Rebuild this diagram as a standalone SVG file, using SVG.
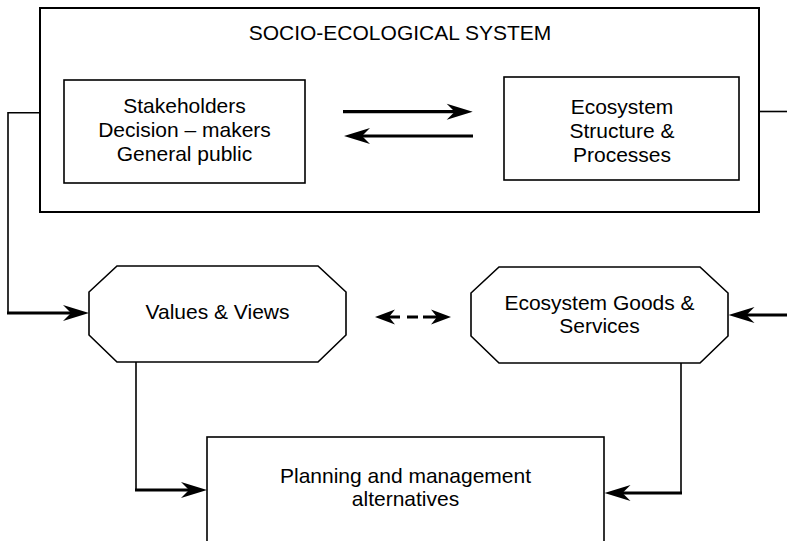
<svg xmlns="http://www.w3.org/2000/svg" width="787" height="541" viewBox="0 0 787 541">
<style>
.box{fill:#fff;stroke:#000;stroke-width:1.6}
.outer{fill:#fff;stroke:#000;stroke-width:2}
.oct{fill:#fff;stroke:#000;stroke-width:1.6;stroke-linejoin:miter}
.t{font-family:"Liberation Sans",Arial,sans-serif;font-size:21px;fill:#000;text-anchor:middle}
.thin{fill:none;stroke:#000;stroke-width:1.6}
.thick{fill:none;stroke:#000;stroke-width:3.2}
</style>
<defs>
<marker id="ah" markerUnits="userSpaceOnUse" markerWidth="26" markerHeight="16" refX="16" refY="8" orient="auto" overflow="visible">
<path d="M0,0 L26,8 L0,16 L8,8 z" fill="#000"/>
</marker>
<marker id="sh" markerUnits="userSpaceOnUse" markerWidth="20" markerHeight="15" refX="12" refY="7.5" orient="auto-start-reverse" overflow="visible">
<path d="M0,0 L20,7.5 L0,15 L6,7.5 z" fill="#000"/>
</marker>
</defs>

<g id="ses">
<rect class="outer" x="40" y="8" width="719" height="204"/>
<text class="t" x="400" y="40">SOCIO-ECOLOGICAL SYSTEM</text>
</g>

<g id="stakeholders">
<rect class="box" x="64" y="80" width="241" height="103"/>
<text class="t" x="184.5" y="113">Stakeholders</text>
<text class="t" x="184.5" y="137">Decision – makers</text>
<text class="t" x="184.5" y="161">General public</text>
</g>

<g id="ecosystem">
<rect class="box" x="504" y="77" width="235" height="103"/>
<text class="t" x="622" y="114">Ecosystem</text>
<text class="t" x="622" y="138">Structure &amp;</text>
<text class="t" x="622" y="162">Processes</text>
</g>

<g id="values">
<polygon class="oct" points="117,266 318,266 346,292 346,335 318,362 117,362 89,335 89,292"/>
<text class="t" x="217.5" y="319">Values &amp; Views</text>
</g>

<g id="goods">
<polygon class="oct" points="499,267 700,267 728,293 728,336 700,363 499,363 471,336 471,293"/>
<text class="t" x="599.5" y="310">Ecosystem Goods &amp;</text>
<text class="t" x="599.5" y="333">Services</text>
</g>

<g id="planning">
<rect class="box" x="207" y="437" width="397" height="130"/>
<text class="t" x="405.5" y="483">Planning and management</text>
<text class="t" x="405.5" y="506">alternatives</text>
</g>

<g id="connectors">
<path class="thick" d="M343,111.7 H462.7" marker-end="url(#ah)"/>
<path class="thick" d="M473,136 H354" marker-end="url(#ah)"/>
<path class="thin" d="M40,112.7 H8 V313"/>
<path class="thick" d="M7,313 H79" marker-end="url(#ah)"/>
<path class="thin" d="M759,111.5 H787"/>
<path class="thick" d="M790,315 H738.5" marker-end="url(#ah)"/>
<path class="thick" d="M383,317 H443" stroke-dasharray="17 7 11 5 20" marker-start="url(#sh)" marker-end="url(#sh)"/>
<path class="thin" d="M136,362 V490"/>
<path class="thick" d="M135,490 H197" marker-end="url(#ah)"/>
<path class="thin" d="M681,363 V493"/>
<path class="thick" d="M682,493 H614.5" marker-end="url(#ah)"/>
</g>
</svg>
